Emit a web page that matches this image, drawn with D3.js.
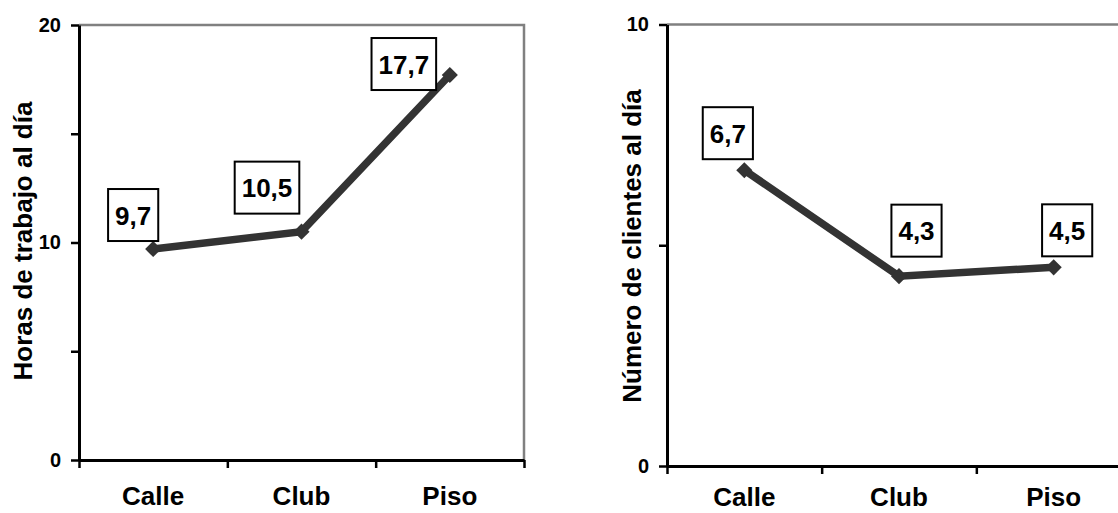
<!DOCTYPE html>
<html>
<head>
<meta charset="utf-8">
<script src="https://cdn.jsdelivr.net/npm/d3@7/dist/d3.min.js"></script>
<style>
  html, body { margin: 0; padding: 0; background: #fff; }
  svg { display: block; font-family: "Liberation Sans", Arial, sans-serif; }
</style>
</head>
<body>
<svg id="chart" width="1118" height="513"></svg>
<script>
// ---- data ----
const categories = ["Calle", "Club", "Piso"];
const horasValues = [9.7, 10.5, 17.7];
const clientesValues = [6.7, 4.3, 4.5];
const horasTicks = [0, 5, 10, 15, 20];
const horasTickLabels = [0, 10, 20];
const clientesTicks = [0, 5, 10];
const clientesTickLabels = [0, 10];
const horasTitle = "Horas de trabajo al día";
const clientesTitle = "Número de clientes al día";

// ---- layout (pixels) ----
const panels = [
  { values: horasValues, ticks: horasTicks, tickLabels: horasTickLabels, domain: [0, 20],
    title: horasTitle, x0: 79, x1: 524, yBottom: 460, yTop: 25,
    titleX: 32, titleY: 241, catBaseline: 505,
    labelOffsets: [[-20, -34], [-34.5, -44], [-46, -11]] },
  { values: clientesValues, ticks: clientesTicks, tickLabels: clientesTickLabels, domain: [0, 10],
    title: clientesTitle, x0: 667, x1: 1131, yBottom: 466, yTop: 24.5,
    titleX: 641, titleY: 246, catBaseline: 506,
    labelOffsets: [[-16.5, -37], [17.5, -45.5], [13.5, -37]] }
];

const locale = d3.formatLocale({ decimal: ",", thousands: ".", grouping: [3], currency: ["", "€"] });
const fmt = locale.format(".1f");

const svg = d3.select("#chart");

panels.forEach(p => {
  const g = svg.append("g");
  const y = d3.scaleLinear().domain(p.domain).range([p.yBottom, p.yTop]);
  const xb = d3.scaleBand().domain(categories).range([p.x0, p.x1]);
  const xe = d3.scaleLinear().domain([0, categories.length]).range([p.x0, p.x1]);

  // plot border (top & right) in gray
  g.append("path")
    .attr("d", `M${p.x0},${y(p.domain[1])}H${p.x1}V${y(p.domain[0])}`)
    .attr("fill", "none").attr("stroke", "#808080").attr("stroke-width", 2.5);

  // y axis
  const yAxis = d3.axisLeft(y).tickValues(p.ticks).tickSize(8).tickSizeOuter(0).tickPadding(10)
    .tickFormat(d => p.tickLabels.includes(d) ? d3.format("d")(d) : "");
  const ya = g.append("g").attr("transform", `translate(${p.x0},0)`).call(yAxis);
  ya.select(".domain").attr("stroke", "#000").attr("stroke-width", 3);
  ya.selectAll(".tick line").attr("stroke", "#000").attr("stroke-width", 2.5);
  ya.selectAll(".tick text").attr("font-size", 20).attr("font-weight", "bold")
    .attr("fill", "#000").attr("font-family", "Liberation Sans, Arial, sans-serif");

  // x axis (ticks at category boundaries)
  const xAxis = d3.axisBottom(xe).tickValues(d3.range(categories.length + 1))
    .tickSize(8).tickSizeOuter(0).tickFormat("");
  const xa = g.append("g").attr("transform", `translate(0,${p.yBottom})`).call(xAxis);
  xa.select(".domain").attr("stroke", "#000").attr("stroke-width", 3);
  xa.selectAll(".tick line").attr("stroke", "#000").attr("stroke-width", 2.5);

  // category labels
  g.selectAll("text.cat").data(categories).join("text")
    .attr("class", "cat")
    .attr("x", d => xb(d) + xb.bandwidth() / 2)
    .attr("y", p.catBaseline)
    .attr("text-anchor", "middle")
    .attr("font-size", 26).attr("font-weight", "bold").attr("fill", "#000")
    .text(d => d);

  // y title
  g.append("text")
    .attr("transform", `translate(${p.titleX},${p.titleY}) rotate(-90)`)
    .attr("text-anchor", "middle")
    .attr("font-size", 26).attr("font-weight", "bold").attr("fill", "#000")
    .text(p.title);

  // line
  const pts = p.values.map((v, i) => [xb(categories[i]) + xb.bandwidth() / 2, y(v)]);
  g.append("path")
    .datum(pts)
    .attr("d", d3.line())
    .attr("fill", "none").attr("stroke", "#333333").attr("stroke-width", 7.5)
    .attr("stroke-linejoin", "miter");

  // diamond markers
  const sym = d3.symbol().type(d3.symbolSquare).size(130);
  g.selectAll("path.mk").data(pts).join("path")
    .attr("class", "mk")
    .attr("d", sym())
    .attr("transform", d => `translate(${d[0]},${d[1]}) rotate(45)`)
    .attr("fill", "#333333");

  // data labels with boxes
  pts.forEach((pt, i) => {
    const cx = pt[0] + p.labelOffsets[i][0];
    const cy = pt[1] + p.labelOffsets[i][1];
    const lg = g.append("g");
    const rect = lg.append("rect").attr("fill", "#fff").attr("stroke", "#000").attr("stroke-width", 2);
    const t = lg.append("text")
      .attr("x", cx).attr("y", cy + 9.5)
      .attr("text-anchor", "middle")
      .attr("font-size", 26).attr("font-weight", "bold").attr("fill", "#000")
      .text(fmt(p.values[i]));
    const w = t.node().getComputedTextLength() + 14;
    const h = 52;
    rect.attr("x", cx - w / 2).attr("y", cy - h / 2).attr("width", w).attr("height", h);
  });
});
</script>
</body>
</html>
